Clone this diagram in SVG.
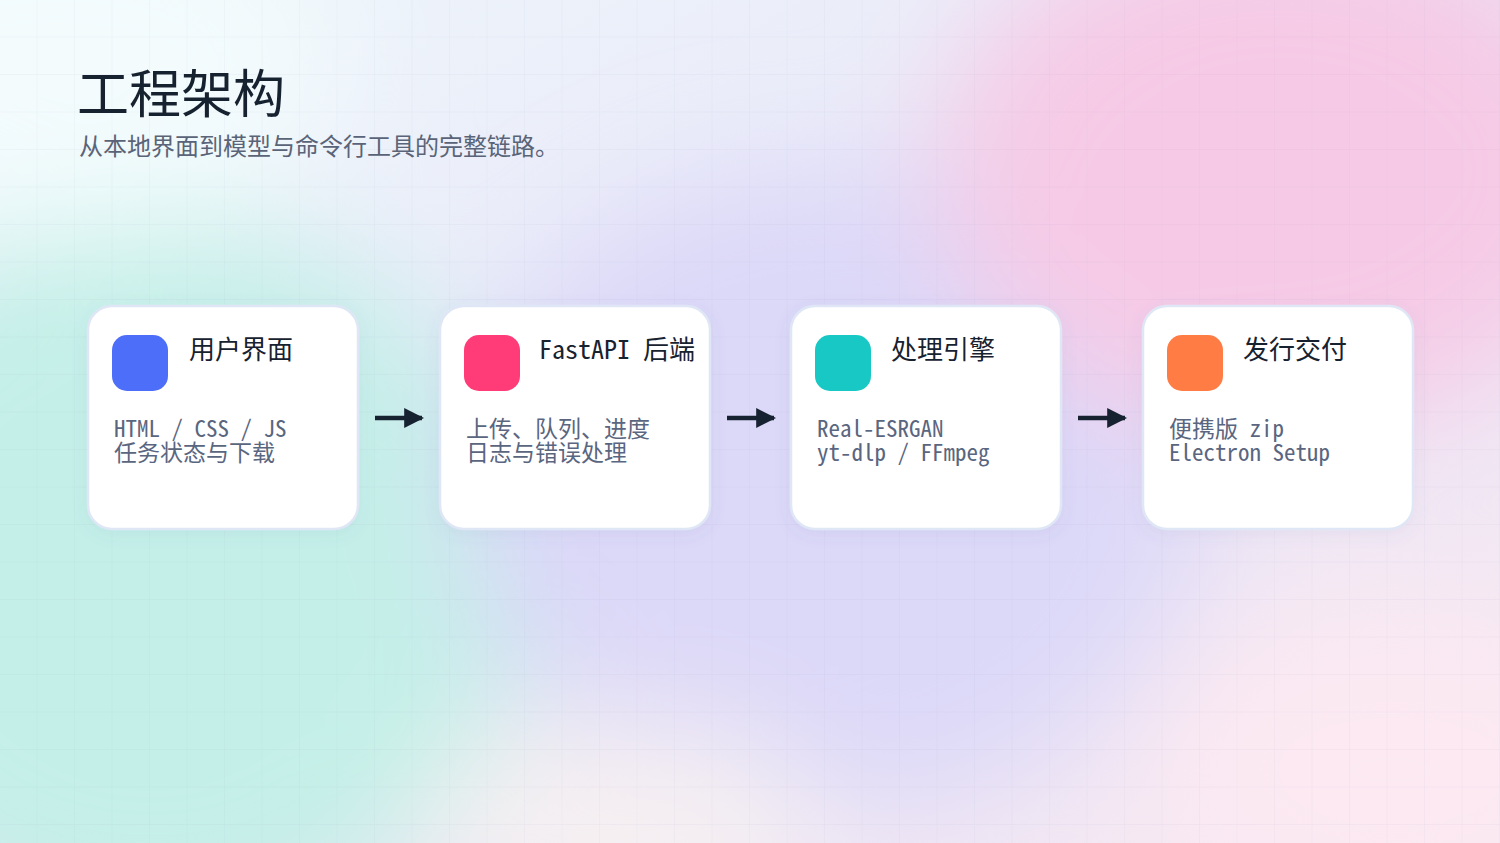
<svg xmlns="http://www.w3.org/2000/svg" width="1500" height="843" viewBox="0 0 1500 843">
  <defs>
    <linearGradient id="base" x1="0" y1="0" x2="1" y2="1">
      <stop offset="0" stop-color="#eef7fb"/>
      <stop offset="0.5" stop-color="#e9e7f8"/>
      <stop offset="1" stop-color="#f6e8f1"/>
    </linearGradient>
    <filter id="blur" x="-50%" y="-50%" width="200%" height="200%">
      <feGaussianBlur stdDeviation="60"/>
    </filter>
    <pattern id="grid" width="37.5" height="37.5" patternUnits="userSpaceOnUse">
      <path d="M37.5 0V37.5M0 37.5H37.5" fill="none" stroke="#8c9ab8" stroke-opacity="0.12" stroke-width="1"/>
    </pattern>
    <filter id="shadow" x="-20%" y="-20%" width="140%" height="140%">
      <feDropShadow dx="0" dy="4" stdDeviation="8" flood-color="#6070a0" flood-opacity="0.08"/>
    </filter>
    <marker id="ah" viewBox="0 0 10 10" refX="9" refY="5" markerWidth="4.4" markerHeight="5.2" markerUnits="strokeWidth" orient="auto">
      <path d="M0 0L10 5L0 10Z" fill="#172230"/>
    </marker>
    <style>
      .card{fill:#ffffff;stroke:#dfe6f5;stroke-width:2.5}
      .ttl{font-family:"Noto Sans Mono CJK SC","Noto Sans CJK SC","DejaVu Sans Mono",monospace;font-size:26px;fill:#172230}
      .dsc{font-family:"Noto Sans Mono CJK SC","Noto Sans CJK SC","DejaVu Sans Mono",monospace;font-size:23px;fill:#5a6680}
      .arr{stroke:#172230;stroke-width:4.5;fill:none}
    </style>
  </defs>

  <!-- background -->
  <rect width="1500" height="843" fill="url(#base)"/>
  <g filter="url(#blur)">
    <ellipse cx="150" cy="580" rx="380" ry="360" fill="#c4efe8"/>
    <ellipse cx="60" cy="70" rx="280" ry="170" fill="#f3fbfd"/>
    <ellipse cx="830" cy="490" rx="370" ry="320" fill="#dcd8f8"/>
    <ellipse cx="1280" cy="170" rx="340" ry="260" fill="#f6cae6"/>
    <ellipse cx="1390" cy="770" rx="240" ry="160" fill="#fce9f2"/>
    <ellipse cx="620" cy="820" rx="200" ry="100" fill="#f6f0f2"/>
  </g>
  <rect width="1500" height="843" fill="url(#grid)"/>

  <!-- header -->
  <text x="77" y="113" font-family="'Noto Sans CJK SC',sans-serif" font-size="52" fill="#172230">工程架构</text>
  <text x="79" y="155" font-family="'Noto Sans CJK SC',sans-serif" font-size="24" fill="#5a6478">从本地界面到模型与命令行工具的完整链路。</text>

  <!-- connectors -->
  <g id="connectors">
    <line class="arr" x1="375" y1="418" x2="422" y2="418" marker-end="url(#ah)"/>
    <line class="arr" x1="727" y1="418" x2="774" y2="418" marker-end="url(#ah)"/>
    <line class="arr" x1="1078" y1="418" x2="1125" y2="418" marker-end="url(#ah)"/>
  </g>

  <!-- nodes -->
  <g id="node-ui">
    <rect class="card" x="88" y="306" width="270" height="223" rx="24" filter="url(#shadow)"/>
    <rect x="112" y="335" width="56" height="56" rx="15" fill="#4d6ef8"/>
    <text class="ttl" x="189" y="359">用户界面</text>
    <text class="dsc" x="114" y="437">HTML / CSS / JS</text>
    <text class="dsc" x="114" y="461">任务状态与下载</text>
  </g>
  <g id="node-backend">
    <rect class="card" x="440" y="306" width="270" height="223" rx="24" filter="url(#shadow)"/>
    <rect x="464" y="335" width="56" height="56" rx="15" fill="#ff3b78"/>
    <text class="ttl" x="539" y="359">FastAPI 后端</text>
    <text class="dsc" x="466" y="437">上传、队列、进度</text>
    <text class="dsc" x="466" y="461">日志与错误处理</text>
  </g>
  <g id="node-engine">
    <rect class="card" x="791" y="306" width="270" height="223" rx="24" filter="url(#shadow)"/>
    <rect x="815" y="335" width="56" height="56" rx="15" fill="#18c8c4"/>
    <text class="ttl" x="891" y="359">处理引擎</text>
    <text class="dsc" x="817" y="437">Real-ESRGAN</text>
    <text class="dsc" x="817" y="461">yt-dlp / FFmpeg</text>
  </g>
  <g id="node-release">
    <rect class="card" x="1143" y="306" width="270" height="223" rx="24" filter="url(#shadow)"/>
    <rect x="1167" y="335" width="56" height="56" rx="15" fill="#ff7d45"/>
    <text class="ttl" x="1243" y="359">发行交付</text>
    <text class="dsc" x="1169" y="437">便携版 zip</text>
    <text class="dsc" x="1169" y="461">Electron Setup</text>
  </g>
</svg>
